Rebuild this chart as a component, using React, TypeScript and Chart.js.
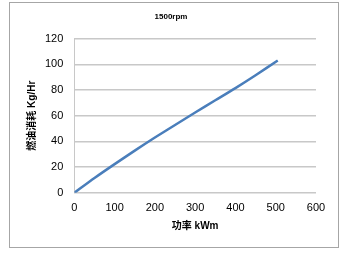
import React, { useEffect, useRef } from "react";
import { Chart, registerables } from "chart.js";

Chart.register(...registerables);

const chartTitle = "1500rpm";
const xTitle = "功率 kWm";
const yTitle = "燃油消耗 Kg/Hr";
const powerKw = [0, 50, 100, 150, 200, 250, 300, 350, 400, 450, 505];
const fuelKgHr = [0, 11.5, 22.3, 32.8, 43, 52.8, 62.5, 72, 81.5, 91.5, 103];

const borderPlugin = {
  id: "outerBorder",
  afterDraw(chart: any) {
    const ctx = chart.ctx;
    ctx.save();
    ctx.strokeStyle = "#a6a6a6";
    ctx.lineWidth = 1;
    ctx.strokeRect(9.5, 2.5, 329, 245);
    ctx.restore();
  },
};

export default function App() {
  const ref = useRef<HTMLCanvasElement>(null);
  useEffect(() => {
    const font = "'Liberation Sans', 'Noto Sans CJK SC', sans-serif";
    const chart = new Chart(ref.current!, {
      type: "line",
      data: {
        datasets: [
          {
            data: powerKw.map((x, i) => ({ x, y: fuelKgHr[i] })),
            borderColor: "#4a7ebb",
            borderWidth: 2.5,
            pointRadius: 0,
            tension: 0.25,
            fill: false,
          },
        ],
      },
      options: {
        animation: false,
        responsive: false,
        layout: { padding: { left: 26, right: 34, top: 6, bottom: 22 } },
        plugins: {
          legend: { display: false },
          tooltip: { enabled: false },
          title: {
            display: true,
            text: chartTitle,
            color: "#000",
            font: { family: font, size: 8, weight: "bold" },
            padding: { top: 6, bottom: 17 },
          },
        },
        scales: {
          x: {
            type: "linear",
            min: 0,
            max: 600,
            ticks: { stepSize: 100, color: "#000", font: { family: font, size: 11 }, padding: 9 },
            grid: { display: false, drawTicks: false },
            border: { display: false },
            title: {
              display: true,
              text: xTitle,
              color: "#000",
              font: { family: font, size: 10, weight: "bold" },
              padding: { top: -4, bottom: 0 },
            },
          },
          y: {
            min: 0,
            max: 120,
            ticks: { stepSize: 20, color: "#000", font: { family: font, size: 11 }, padding: 11 },
            grid: { color: "#c8c8c8", lineWidth: 1.5, drawTicks: false },
            border: { display: true, color: "#c8c8c8", width: 1 },
            title: {
              display: true,
              text: yTitle,
              color: "#000",
              font: { family: font, size: 10, weight: "bold" },
              padding: { top: 0, bottom: -4 },
            },
          },
        },
      },
      plugins: [borderPlugin],
    });
    return () => chart.destroy();
  }, []);
  return (
    <div style={{ position: "fixed", left: 0, top: 0, width: 350, height: 254, background: "#fff" }}>
      <canvas ref={ref} width={350} height={254} />
    </div>
  );
}
